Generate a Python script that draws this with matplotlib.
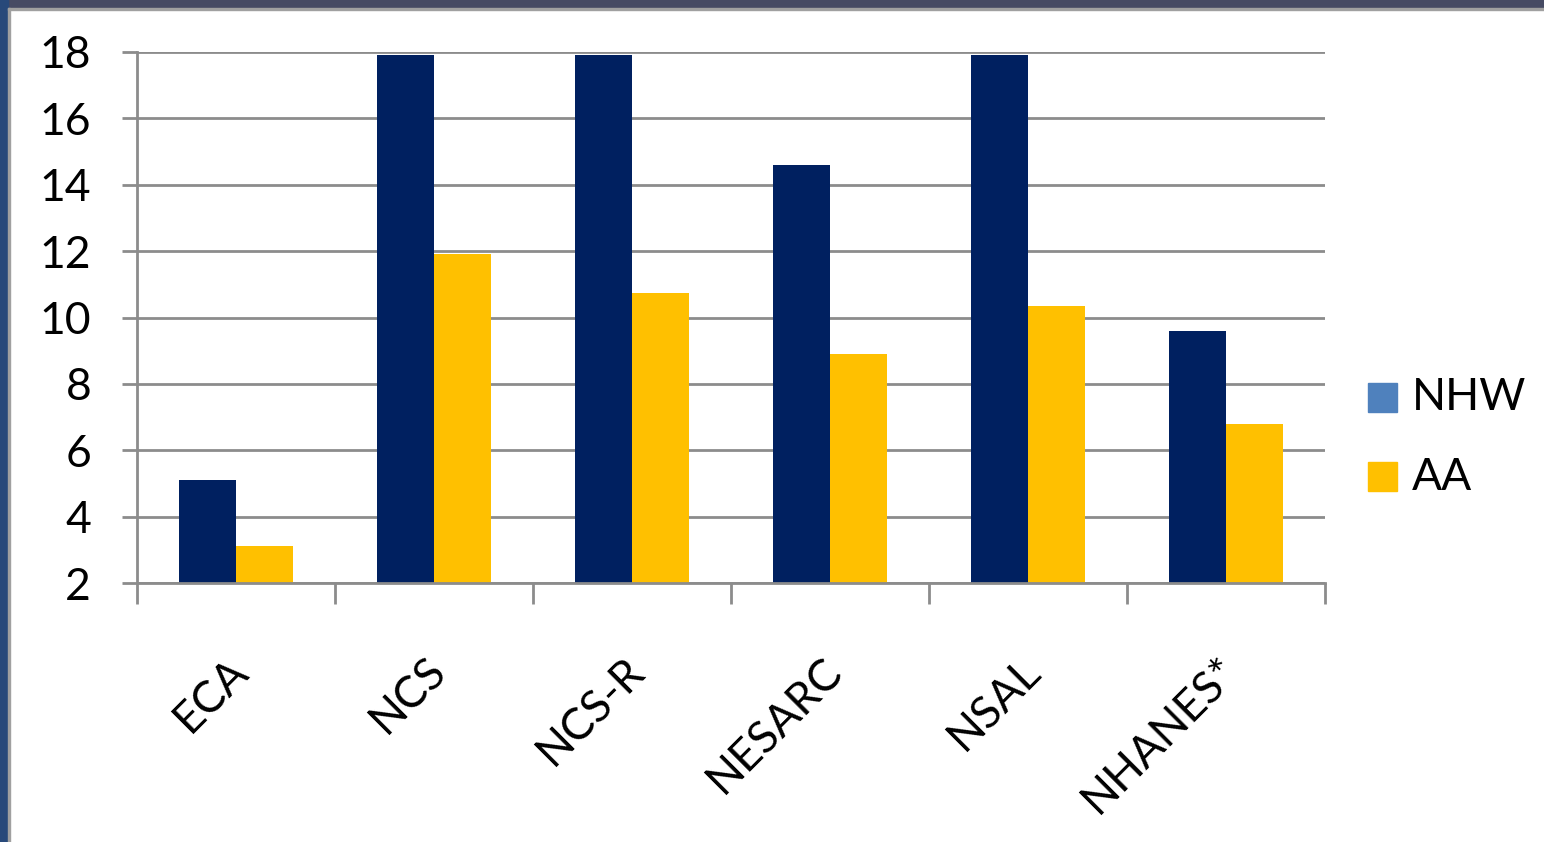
import matplotlib
matplotlib.use('Agg')
import matplotlib.pyplot as plt
import matplotlib.transforms as mtransforms
import numpy as np
from matplotlib.patches import Rectangle

plt.rcParams['font.family'] = ['Lato', 'DejaVu Sans']

categories = ['ECA', 'NCS', 'NCS-R', 'NESARC', 'NSAL', 'NHANES*']
nhw = [5.1, 17.9, 17.9, 14.6, 17.9, 9.6]
aa = [3.1, 11.9, 10.75, 8.9, 10.35, 6.8]
series_names = ['NHW', 'AA']
bar_colors = ['#002060', '#FFC000']
legend_colors = ['#4F81BD', '#FFC000']
yticks = [2, 4, 6, 8, 10, 12, 14, 16, 18]

W, H = 1544, 842
fig = plt.figure(figsize=(W / 100, H / 100), dpi=100)

# slide frame: dark band on top and left, thin grey line inside
fig.patches.append(Rectangle((0, 1 - 8 / H), 1, 8 / H, transform=fig.transFigure,
                             color='#464A63', zorder=0))
fig.patches.append(Rectangle((0, 0), 8 / W, 1, transform=fig.transFigure,
                             color='#28497A', zorder=0))
fig.patches.append(Rectangle((8 / W, 0), 2 / W, 1 - 8 / H, transform=fig.transFigure,
                             color='#A0A0A0', zorder=0))
fig.patches.append(Rectangle((8 / W, 1 - 10 / H), 1, 2 / H, transform=fig.transFigure,
                             color='#A0A0A0', zorder=0))

ax = fig.add_axes([137 / W, 1 - 583 / H, (1325 - 137) / W, (583 - 52) / H])
x = np.arange(len(categories))
bw = 0.288
ax.bar(x - bw / 2, np.array(nhw) - 2, bw, bottom=2, color=bar_colors[0], zorder=3)
ax.bar(x + bw / 2, np.array(aa) - 2, bw, bottom=2, color=bar_colors[1], zorder=3)

ax.set_xlim(-0.5, len(categories) - 0.5)
ax.set_ylim(2, 18)
ax.set_yticks(yticks)
ax.set_yticklabels([str(t) for t in yticks], fontsize=32)
ax.yaxis.grid(True, color='#8C8C8C', lw=2, zorder=0)
ax.tick_params(axis='y', length=11, width=2, color='#8C8C8C', pad=22)

# category boundaries as major ticks, names on minor ticks
ax.set_xticks(np.arange(len(categories) + 1) - 0.5)
ax.set_xticklabels([])
ax.set_xticks(x, minor=True)
ax.set_xticklabels(categories, minor=True, rotation=45, ha='right', va='top',
                   rotation_mode='anchor', fontsize=32)
ax.tick_params(axis='x', which='major', length=15, width=2, color='#8C8C8C')
ax.tick_params(axis='x', which='minor', length=0, pad=48)
shift = mtransforms.ScaledTranslation(-9 / 100, 0, fig.dpi_scale_trans)
for lab in ax.get_xticklabels(minor=True):
    lab.set_transform(lab.get_transform() + shift)

for s in ['top', 'right']:
    ax.spines[s].set_visible(False)
for s in ['left', 'bottom']:
    ax.spines[s].set_color('#8C8C8C')
    ax.spines[s].set_linewidth(2)
    ax.spines[s].set_zorder(4)

# legend
for i, (name, c) in enumerate(zip(series_names, legend_colors)):
    y0 = 1 - (412 + i * 79) / H
    fig.patches.append(Rectangle((1368 / W, y0), 29 / W, 29 / H,
                                 transform=fig.transFigure, color=c))
    fig.text(1412 / W, y0 + 14 / H, name, fontsize=32, va='center', ha='left')

fig.savefig('out.png', dpi=100)
